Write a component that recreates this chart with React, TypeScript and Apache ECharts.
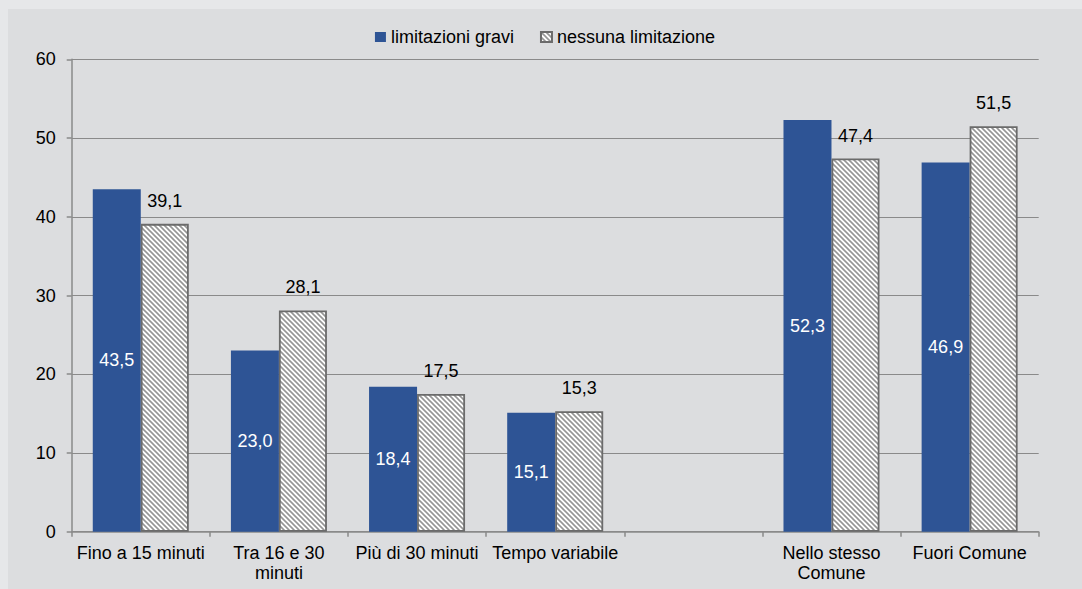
import React, { useEffect, useRef } from "react";
import * as echarts from "echarts";

const categories = [
  "Fino a 15 minuti",
  "Tra 16 e 30\nminuti",
  "Più di 30 minuti",
  "Tempo variabile",
  "",
  "Nello stesso\nComune",
  "Fuori Comune",
];
const seriesNames = ["limitazioni gravi", "nessuna limitazione"];
const limitazioniGravi = [43.5, 23.0, 18.4, 15.1, null, 52.3, 46.9];
const nessunaLimitazione = [39.1, 28.1, 17.5, 15.3, null, 47.4, 51.5];
const yMin = 0;
const yMax = 60;
const yInterval = 10;

const FONT = "'Liberation Sans', Arial, sans-serif";

function makeHatch(): HTMLCanvasElement {
  const s = 5;
  const c = document.createElement("canvas");
  c.width = s;
  c.height = s;
  const ctx = c.getContext("2d")!;
  ctx.fillStyle = "#ffffff";
  ctx.fillRect(0, 0, s, s);
  ctx.strokeStyle = "#959595";
  ctx.lineWidth = 1.6;
  ctx.beginPath();
  for (const o of [-s, 0, s]) {
    ctx.moveTo(o - 1, -1);
    ctx.lineTo(o + s + 1, s + 1);
  }
  ctx.stroke();
  return c;
}

const fmt = (v: any) => {
  const n = typeof v === "number" ? v : v?.value;
  if (n == null || isNaN(n)) return "";
  return n.toFixed(1).replace(".", ",");
};

export default function App() {
  const ref = useRef<HTMLDivElement>(null);
  useEffect(() => {
    document.body.style.background = "#e6e7e9";
    const chart = echarts.init(ref.current!, undefined, { renderer: "svg" });
    const hatch = makeHatch();
    chart.setOption({
      animation: false,
      backgroundColor: "#dcdddf",
      textStyle: { fontFamily: FONT },
      legend: {
        top: 14,
        left: "center",
        itemWidth: 11,
        itemHeight: 10,
        itemGap: 26,
        icon: "rect",
        textStyle: { fontSize: 18, color: "#000", fontFamily: FONT },
        data: seriesNames,
      },
      grid: { left: 63.7, right: 43.3, top: 50.3, bottom: 57.3, containLabel: false },
      xAxis: {
        type: "category",
        data: categories,
        axisLine: { lineStyle: { color: "#8a8a8a", width: 1.5 } },
        axisTick: { show: true, length: 5, lineStyle: { color: "#8a8a8a", width: 1.5 } },
        axisLabel: {
          fontSize: 18,
          color: "#000",
          margin: 11,
          lineHeight: 20,
          interval: 0,
          fontFamily: FONT,
        },
      },
      yAxis: {
        type: "value",
        min: yMin,
        max: yMax,
        interval: yInterval,
        axisLine: { show: true, lineStyle: { color: "#8a8a8a", width: 1.5 } },
        axisTick: { show: true, length: 5, lineStyle: { color: "#8a8a8a", width: 1.5 } },
        axisLabel: { fontSize: 18, color: "#000", margin: 16, fontFamily: FONT },
        splitLine: { show: true, lineStyle: { color: "#8a8a8a", width: 1 } },
      },
      series: [
        {
          name: seriesNames[0],
          type: "bar",
          data: limitazioniGravi,
          barWidth: 48,
          barGap: "0%",
          itemStyle: { color: "#2e5495" },
          label: {
            show: true,
            position: "inside",
            color: "#fff",
            fontSize: 18,
            fontFamily: FONT,
            formatter: (p: any) => fmt(p.value),
          },
        },
        {
          name: seriesNames[1],
          type: "bar",
          data: nessunaLimitazione,
          barWidth: 48,
          barGap: "0%",
          itemStyle: {
            color: { image: hatch, repeat: "repeat" },
            borderColor: "#6b6b6b",
            borderWidth: 1.8,
          },
          label: {
            show: true,
            position: "top",
            distance: 14,
            color: "#000",
            fontSize: 18,
            fontFamily: FONT,
            formatter: (p: any) => fmt(p.value),
          },
        },
      ],
    });
    return () => chart.dispose();
  }, []);
  return (
    <div
      ref={ref}
      style={{ position: "absolute", left: 8, top: 9, width: 1074, height: 580 }}
    />
  );
}
